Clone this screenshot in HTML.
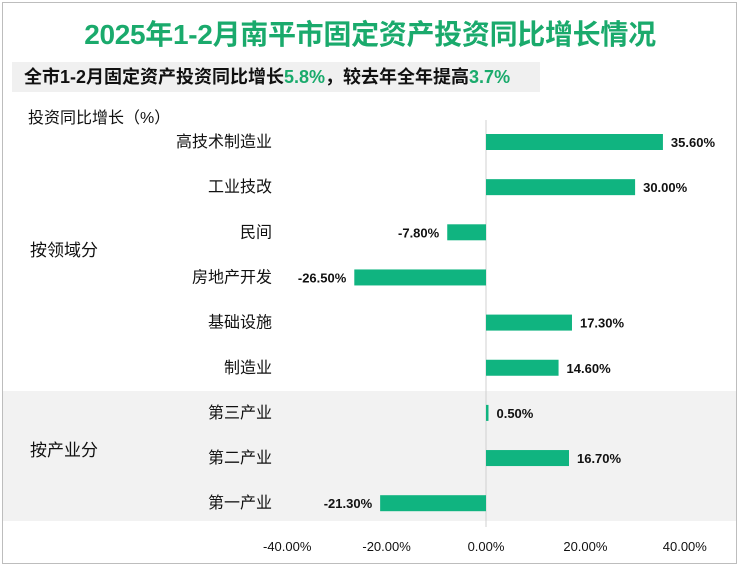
<!DOCTYPE html>
<html><head><meta charset="utf-8">
<style>
body{margin:0;width:740px;height:570px;background:#fff;font-family:"Liberation Sans","Noto Sans CJK SC",sans-serif;overflow:hidden;position:relative}
.abs{position:absolute}
</style></head><body>
<div class="abs" style="left:2px;top:2px;width:733px;height:560px;border:1.5px solid #bdbdbd"></div>
<div class="abs" style="left:0;width:740px;top:13px;text-align:center;font-size:28px;font-weight:bold;color:#1aaa6c;letter-spacing:-0.3px">2025年1-2月南平市固定资产投资同比增长情况</div>
<div class="abs" style="left:12px;top:62px;width:528px;height:30px;background:#f0f0f0;font-size:18px;font-weight:bold;line-height:30px;padding-left:12px;box-sizing:border-box;color:#111">全市1-2月固定资产投资同比增长<span style="color:#1aaa6c">5.8%</span>，较去年全年提高<span style="color:#1aaa6c">3.7%</span></div>
<div class="abs" style="left:28px;top:104px;font-size:16px;color:#111">投资同比增长（%）</div>
<div class="abs" style="left:3px;top:391px;width:733px;height:130px;background:#f2f2f2"></div>
<div class="abs" style="left:30px;top:236px;font-size:17px;color:#111">按领域分</div>
<div class="abs" style="left:30px;top:436px;font-size:17px;color:#111">按产业分</div>
<svg class="abs" style="left:0;top:0" width="740" height="570" id="chart"></svg>
<script>
const categories=["高技术制造业","工业技改","民间","房地产开发","基础设施","制造业","第三产业","第二产业","第一产业"];
const values=[35.6,30.0,-7.8,-26.5,17.3,14.6,0.5,16.7,-21.3];
const ticks=[-40,-20,0,20,40];
const tickLabels=["-40.00%","-20.00%","0.00%","20.00%","40.00%"];
const NS="http://www.w3.org/2000/svg";
const svg=document.getElementById('chart');
const x0=486,scale=4.97;
const xs=v=>x0+v*scale;
const ys=i=>142+i*45.15;
function mk(t,a){const e=document.createElementNS(NS,t);for(const k in a)e.setAttribute(k,a[k]);svg.appendChild(e);return e;}
const zl=mk('line',{x1:x0,x2:x0,y1:120,y2:527,stroke:'#d0d0d0','stroke-width':1});


categories.forEach((c,i)=>{
  const v=values[i],y=ys(i);
  const r=mk('rect',{x:Math.min(xs(v),x0),y:y-8,width:Math.max(Math.abs(xs(v)-x0),1.5),height:16,fill:'#10b480'});
  
  
  const lb=mk('text',{x:272,y:y+5,'text-anchor':'end','font-size':16,fill:'#111'});
  lb.textContent=c;
  
  
  const vt=mk('text',{x:v>=0?xs(v)+8:xs(v)-8,y:y+5,'text-anchor':v>=0?'start':'end','font-size':13,'font-weight':'bold',fill:'#111'});
  vt.textContent=v.toFixed(2)+'%';
  
  
});
ticks.forEach((t,i)=>{
  const tt=mk('text',{x:xs(t),y:551,'text-anchor':'middle','font-size':13,fill:'#111'});
  tt.textContent=tickLabels[i];
  
  
});
</script>
</body></html>
